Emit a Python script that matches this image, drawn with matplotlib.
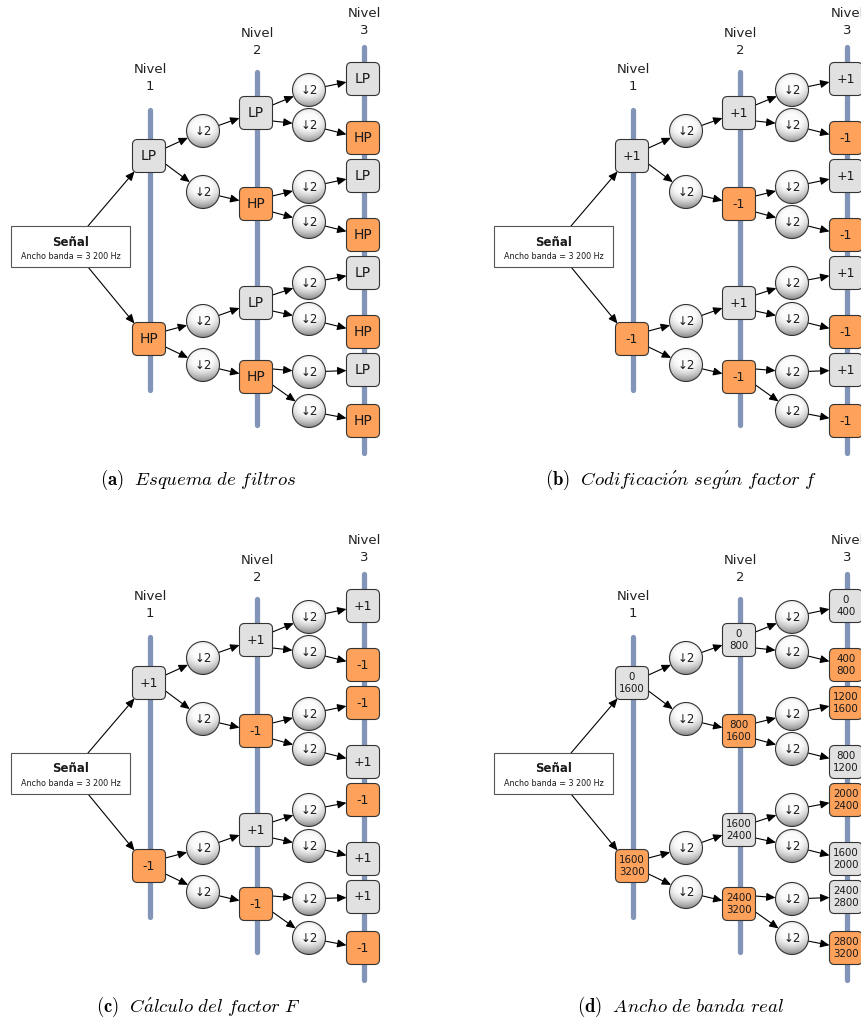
"""Wavelet packet filter-bank diagrams (four panels)."""
import numpy as np
import matplotlib
matplotlib.use("Agg")
import matplotlib.pyplot as plt
from matplotlib.patches import FancyBboxPatch, Rectangle, Circle

plt.rcParams["font.family"] = ["DejaVu Sans"]
plt.rcParams["mathtext.fontset"] = "cm"

# ---- data -------------------------------------------------------------
level1_a = ["LP", "HP"]
level2_a = ["LP", "HP", "LP", "HP"]
level3_a = ["LP", "HP", "LP", "HP", "LP", "HP", "LP", "HP"]

level1_b = ["+1", "-1"]
level2_b = ["+1", "-1", "+1", "-1"]
level3_b = ["+1", "-1", "+1", "-1", "+1", "-1", "+1", "-1"]

level1_c = ["+1", "-1"]
level2_c = ["+1", "-1", "+1", "-1"]
level3_c = ["+1", "-1", "-1", "+1", "-1", "+1", "+1", "-1"]

level1_d = ["0\n1600", "1600\n3200"]
level2_d = ["0\n800", "800\n1600", "1600\n2400", "2400\n3200"]
level3_d = ["0\n400", "400\n800", "1200\n1600", "800\n1200",
            "2000\n2400", "1600\n2000", "2400\n2800", "2800\n3200"]

# which boxes are drawn orange (high-pass / -1)
orange_ab = [[False, True], [False, True, False, True],
             [False, True, False, True, False, True, False, True]]
orange_cd = [[False, True], [False, True, False, True],
             [False, True, True, False, True, False, False, True]]

captions = [("a", "Esquema\\ de\\ filtros"),
            ("b", "Codificaci\\acute{o}n\\ seg\\acute{u}n\\ factor\\ f"),
            ("c", "C\\acute{a}lculo\\ del\\ factor\\ F"),
            ("d", "Ancho\\ de\\ banda\\ real")]

signal_title = "Señal"
signal_sub = "Ancho banda = 3 200 Hz"

# ---- layout (pixels, panel a) -----------------------------------------
X1, X2, X3 = 149, 256, 363
CX1, CX2 = 203, 309
Y1 = [156, 339]
Y2 = [113, 204, 303, 377]
Y3 = [79, 138, 176, 235, 273, 332, 370, 421]
CY1 = [131, 192, 321, 365]
CY2 = [90, 125, 187, 222, 283, 319, 372, 411]
BARS = [(150, 110, 390, 78), (257, 72, 425, 42), (364, 47, 453, 22)]
HB = 16.5   # half box size
R = 16.5    # circle radius

GRAY = "#e1e1e1"
ORANGE = "#fda15b"
BAR = "#8295b9"

W, H = 862, 1021
fig = plt.figure(figsize=(W / 100, H / 100), dpi=100)
ax = fig.add_axes([0, 0, 1, 1])
ax.set_xlim(0, W)
ax.set_ylim(H, 0)
ax.axis("off")

# sphere shading image: bright top, grey rim towards the bottom
n = 64
u, v = np.meshgrid(np.linspace(-1, 1, n), np.linspace(-1, 1, n))
d = np.sqrt(0.6 * u ** 2 + (v + 0.3) ** 2)
shade = np.clip(0.99 - 0.5 * np.clip(d - 0.4, 0, 1) ** 1.5, 0, 1)
sphere = np.dstack([shade, shade, shade])


def arrow(p0, p1):
    ax.annotate("", xy=p1, xytext=p0,
                arrowprops=dict(arrowstyle="-|>,head_length=0.45,head_width=0.2",
                                color="black", lw=0.8, mutation_scale=12,
                                shrinkA=0, shrinkB=0), zorder=4)


def box(x, y, label, orange, fs):
    ax.add_patch(FancyBboxPatch((x - HB, y - HB), 2 * HB, 2 * HB,
                                boxstyle="round,pad=0,rounding_size=5",
                                fc=ORANGE if orange else GRAY, ec="#333333",
                                lw=0.8, zorder=5))
    ax.text(x, y, label, ha="center", va="center", fontsize=fs,
            color="#1a1a1a", linespacing=1.15, zorder=6)


def sphere_node(x, y):
    c = Circle((x, y), R, fc="none", ec="#333333", lw=0.8, zorder=6)
    im = ax.imshow(sphere, extent=(x - R, x + R, y + R, y - R), origin="upper",
                   zorder=5, interpolation="bilinear")
    ax.add_patch(c)
    im.set_clip_path(Circle((x, y), R, transform=ax.transData))
    ax.text(x, y + 0.5, "↓2", ha="center", va="center", fontsize=8.5,
            color="#1a1a1a", zorder=7)


def to_circle(p, cx, cy):
    dx, dy = p[0] - cx, p[1] - cy
    L = np.hypot(dx, dy)
    return (cx + R * dx / L, cy + R * dy / L)


def panel(ox, oy, labels, orange, fs, cap):
    l1, l2, l3 = labels
    # vertical bars and level titles
    for i, (bx, y0, y1, ty) in enumerate(BARS):
        ax.plot([ox + bx, ox + bx], [oy + y0, oy + y1], color=BAR, lw=3.8,
                solid_capstyle="round", zorder=1)
        ax.text(ox + bx, oy + ty, f"Nivel\n{i + 1}", ha="center", va="center",
                fontsize=9.5, color="#222222", linespacing=1.35)

    # signal box
    ax.add_patch(Rectangle((ox + 11, oy + 226), 119, 41, fc="white",
                           ec="#555555", lw=0.8, zorder=5))
    ax.text(ox + 70.5, oy + 242, signal_title, ha="center", va="center",
            fontsize=8.5, fontweight="bold", color="#1a1a1a", zorder=6)
    ax.text(ox + 70.5, oy + 256, signal_sub, ha="center", va="center",
            fontsize=5.8, color="#1a1a1a", zorder=6)
    arrow((ox + 88, oy + 226), (ox + X1 - HB + 2, oy + Y1[0] + HB - 1))
    arrow((ox + 88, oy + 267), (ox + X1 - HB + 2, oy + Y1[1] - HB + 1))

    # tree: box -> circle -> box
    stages = [(X1, Y1, CX1, CY1, X2, Y2), (X2, Y2, CX2, CY2, X3, Y3)]
    for xa, ya, cx, cys, xb, yb in stages:
        for k, cy in enumerate(cys):
            parent = ya[k // 2]
            start = (ox + xa + HB, oy + parent + (-8 if k % 2 == 0 else 8))
            arrow(start, to_circle(start, ox + cx, oy + cy))
            ty = yb[k]
            end = (ox + xb - HB, oy + ty + 0.28 * (cy - ty))
            arrow(to_circle(end, ox + cx, oy + cy), end)
            sphere_node(ox + cx, oy + cy)

    for i, y in enumerate(Y1):
        box(ox + X1, oy + y, l1[i], orange[0][i], fs)
    for i, y in enumerate(Y2):
        box(ox + X2, oy + y, l2[i], orange[1][i], fs)
    for i, y in enumerate(Y3):
        box(ox + X3, oy + y, l3[i], orange[2][i], fs)

    tag, txt = cap
    ax.text(ox + 198, oy + 480, rf"$\mathbf{{({tag})}}\ \ \mathit{{{txt}}}$",
            ha="center", va="center", fontsize=13.5, color="black")


panel(0, 0, (level1_a, level2_a, level3_a), orange_ab, 10, captions[0])
panel(483, 0, (level1_b, level2_b, level3_b), orange_ab, 9, captions[1])
panel(0, 527, (level1_c, level2_c, level3_c), orange_cd, 9, captions[2])
panel(483, 527, (level1_d, level2_d, level3_d), orange_cd, 7.4, captions[3])

fig.savefig("out.png", dpi=100)
